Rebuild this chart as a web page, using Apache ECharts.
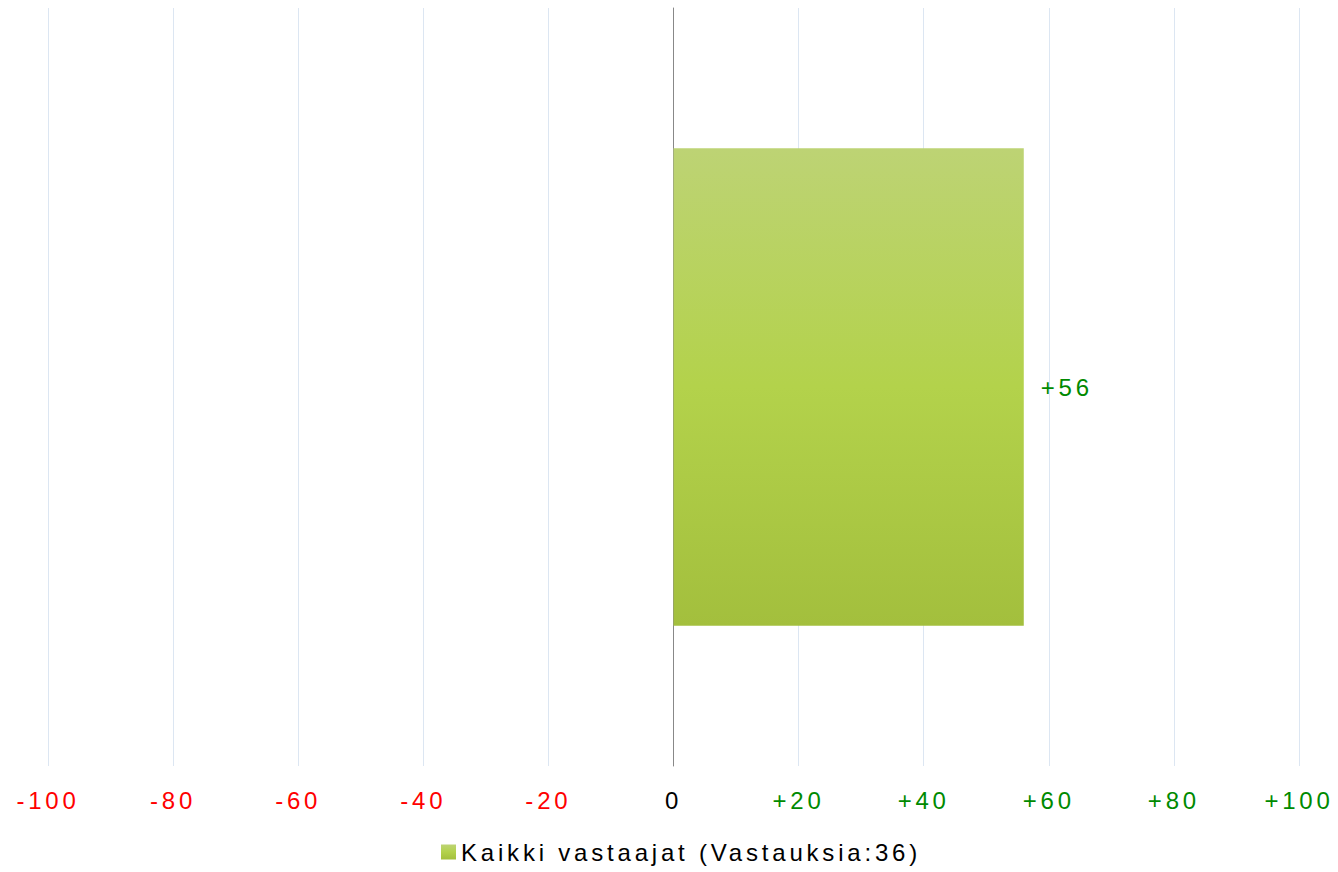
<!DOCTYPE html>
<html>
<head>
<meta charset="utf-8">
<script src="https://cdn.jsdelivr.net/npm/echarts@6/dist/echarts.min.js"></script>
<style>
  html, body { margin: 0; padding: 0; background: #fff; }
  #chart { width: 1338px; height: 872px; }
  /* reference text is drawn with wide tracking */
  #chart svg text { letter-spacing: 3.8px; }
</style>
</head>
<body>
<div id="chart"></div>
<script>
const categories = ['Kaikki vastaajat'];
const seriesName = 'Kaikki vastaajat (Vastauksia:36)';
const values = [56];

const chart = echarts.init(document.getElementById('chart'), null, { renderer: 'svg' });

const option = {
  animation: false,
  grid: { left: 48, right: 39, top: 8, bottom: 106 },
  legend: {
    bottom: 3,
    left: 436,
    icon: 'rect',
    itemWidth: 15,
    itemHeight: 15,
    itemGap: 4,
    textStyle: { fontFamily: 'Liberation Sans', fontSize: 24, color: '#000' },
    data: [seriesName]
  },
  xAxis: {
    type: 'value',
    min: -100,
    max: 100,
    interval: 20,
    axisLine: { show: false },
    axisTick: { show: false },
    splitLine: { lineStyle: { color: '#dce6f2', width: 1 } },
    axisLabel: {
      margin: 22,
      fontFamily: 'Liberation Sans',
      fontSize: 24,
      formatter: v => (v > 0 ? '+' + v : String(v)),
      color: v => (v < 0 ? '#ff0000' : v > 0 ? '#008a00' : '#000')
    }
  },
  yAxis: {
    type: 'category',
    data: categories,
    axisLine: { onZero: true, lineStyle: { color: '#888', width: 1 } },
    axisTick: { show: false },
    axisLabel: { show: false }
  },
  series: [{
    name: seriesName,
    type: 'bar',
    data: values,
    barWidth: '63%',
    itemStyle: {
      color: new echarts.graphic.LinearGradient(0, 0, 0, 1, [
        { offset: 0, color: '#bdd374' },
        { offset: 0.5, color: '#b3d24b' },
        { offset: 1, color: '#a3bf3d' }
      ])
    },
    label: {
      show: true,
      position: 'right',
      distance: 17,
      fontFamily: 'Liberation Sans',
      fontSize: 24,
      color: '#008a00',
      formatter: p => (p.value > 0 ? '+' + p.value : String(p.value))
    }
  }]
};

chart.setOption(option);
</script>
</body>
</html>
